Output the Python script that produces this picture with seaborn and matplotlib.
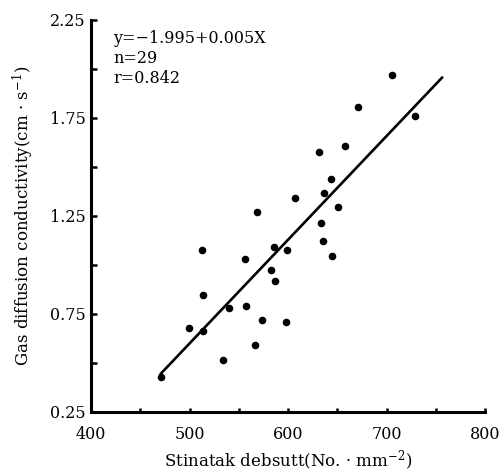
import numpy as np
import pandas as pd
import seaborn as sns
import matplotlib.pyplot as plt
from matplotlib.ticker import MultipleLocator

# Data
stomatal_density = [705.4, 670.9, 729.0, 631.7, 658.0, 643.6, 636.1, 607.4, 568.6, 650.3,
                    633.7, 635.5, 644.6, 512.7, 556.7, 585.6, 598.5, 582.6, 586.6, 513.9,
                    539.8, 557.2, 573.7, 597.8, 499.3, 513.5, 566.4, 534.1, 470.6]
conductivity = [1.968, 1.806, 1.758, 1.576, 1.606, 1.439, 1.366, 1.342, 1.269, 1.296,
                1.215, 1.124, 1.045, 1.079, 1.031, 1.091, 1.075, 0.973, 0.920, 0.849,
                0.782, 0.793, 0.719, 0.711, 0.678, 0.662, 0.594, 0.515, 0.428]

# regression line as drawn
line_x = [470.6, 756.6]
line_y = [0.444, 1.957]

x_ticks = [400, 500, 600, 700, 800]
y_ticks = [0.25, 0.75, 1.25, 1.75, 2.25]

df = pd.DataFrame({"x": stomatal_density, "y": conductivity})
df_line = pd.DataFrame({"x": line_x, "y": line_y})

sns.set_style("ticks")
plt.rcParams['font.family'] = ['DejaVu Serif']
plt.rcParams['mathtext.fontset'] = 'dejavuserif'
plt.rcParams['text.color'] = 'black'
plt.rcParams['axes.labelcolor'] = 'black'

fig = plt.figure(figsize=(5.01, 4.75), dpi=100)
ax = fig.add_axes([91 / 501, 1 - 412 / 475, (485 - 91) / 501, (412 - 20) / 475])

sns.scatterplot(data=df, x="x", y="y", color="black", s=30, edgecolor="black",
                linewidth=0, ax=ax, zorder=3)
sns.lineplot(data=df_line, x="x", y="y", color="black", linewidth=1.9, ax=ax)

ax.set_xlim(400, 800)
ax.set_ylim(0.25, 2.25)
ax.set_xticks(x_ticks)
ax.set_yticks(y_ticks)
ax.set_yticklabels([f"{v:.2f}" for v in y_ticks])
ax.xaxis.set_minor_locator(MultipleLocator(50))
ax.yaxis.set_minor_locator(MultipleLocator(0.25))

ax.tick_params(which="both", direction="in", width=1.8, colors="black", labelsize=11.5)
ax.tick_params(axis="y", which="major", length=4, pad=4)
ax.tick_params(axis="y", which="minor", length=4)
ax.tick_params(axis="x", which="major", length=3, pad=10)
ax.tick_params(axis="x", which="minor", length=3)

sns.despine(ax=ax)
for side in ["left", "bottom"]:
    ax.spines[side].set_linewidth(2.2)
    ax.spines[side].set_color("black")

ax.set_xlabel("Stinatak debsutt(No. · mm$^{-2}$)", fontsize=12, labelpad=4)
ax.set_ylabel("Gas diffusion conductivity(cm · s$^{-1}$)", fontsize=12, labelpad=10)

ax.text(0.056, 0.975, "y=−1.995+0.005X\nn=29\nr=0.842", transform=ax.transAxes,
        fontsize=11.5, va="top", ha="left", linespacing=1.25)

fig.savefig("out.png", dpi=100)
